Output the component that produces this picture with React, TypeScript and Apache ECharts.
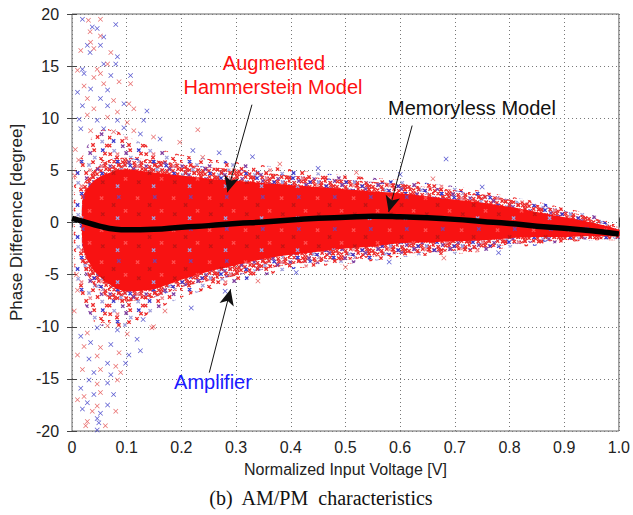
import React, { useEffect, useRef } from 'react';
import * as echarts from 'echarts';

// ---- Data ----
// Memoryless model (thick black curve)
const memX = [0, 0.02, 0.05, 0.08, 0.1, 0.15, 0.2, 0.25, 0.3, 0.35, 0.4, 0.45, 0.5, 0.55, 0.6, 0.65, 0.7, 0.75, 0.8, 0.85, 0.9, 0.95, 1.0];
const memY = [0.4, 0.1, -0.35, -0.65, -0.7, -0.65, -0.45, -0.3, -0.1, 0.05, 0.25, 0.4, 0.5, 0.6, 0.55, 0.45, 0.3, 0.1, -0.1, -0.35, -0.55, -0.8, -1.1];

// Outer envelope of the scatter cloud (sparser speckle)
const cloudX = [0.005, 0.02, 0.04, 0.06, 0.08, 0.1, 0.12, 0.15, 0.2, 0.25, 0.3, 0.35, 0.4, 0.45, 0.5, 0.55, 0.6, 0.65, 0.7, 0.75, 0.8, 0.85, 0.9, 0.95, 1.0];
const cloudUpper = [5, 6.5, 8.5, 9, 8.8, 8.3, 7.8, 7.2, 6.5, 6.1, 5.8, 5.5, 5.1, 4.8, 4.5, 4.3, 4.1, 3.8, 3.5, 3.0, 2.5, 2.0, 1.4, 0.8, -0.3];
const cloudLower = [-5, -7.5, -9.5, -10, -10, -10, -9.4, -8.5, -7.2, -6.4, -5.8, -5.1, -4.5, -4.2, -4.0, -3.7, -3.3, -3.2, -3.0, -2.8, -2.4, -2.2, -1.9, -1.7, -1.6];

// Dense speckled zone (blue/red points overlapping)
const denseX = [0.02, 0.04, 0.06, 0.08, 0.1, 0.15, 0.2, 0.25, 0.3, 0.35, 0.4, 0.45, 0.5, 0.55, 0.6, 0.65, 0.7, 0.75, 0.8, 0.85, 0.9, 0.95, 1.0];
const denseUpper = [3.5, 5, 5.8, 6.2, 6.2, 6, 5.6, 5.3, 5.1, 4.8, 4.5, 4.3, 4.1, 3.9, 3.7, 3.4, 3.1, 2.7, 2.2, 1.7, 1.1, 0.5, -0.5];
const denseLower = [-4, -6, -7, -7.5, -7.6, -7.2, -6.2, -5.6, -5.1, -4.5, -4.0, -3.8, -3.6, -3.3, -3.0, -2.9, -2.7, -2.5, -2.1, -1.9, -1.7, -1.6, -1.5];

// Solid red core of the cloud
const coreX = [0.02, 0.04, 0.06, 0.08, 0.1, 0.15, 0.2, 0.25, 0.3, 0.35, 0.4, 0.45, 0.5, 0.55, 0.6, 0.65, 0.7, 0.75, 0.8, 0.85, 0.9, 0.95, 1.0];
const coreUpper = [2.5, 4, 4.6, 5, 5.1, 4.8, 4.5, 4.2, 4.0, 3.8, 3.6, 3.4, 3.2, 3.0, 2.8, 2.5, 2.2, 1.9, 1.5, 1.0, 0.5, 0.0, -0.7];
const coreLower = [-2.5, -4.6, -5.6, -6.3, -6.6, -6.4, -5.5, -4.7, -4.1, -3.5, -3.1, -2.8, -2.5, -2.3, -2.0, -1.9, -1.8, -1.7, -1.5, -1.4, -1.4, -1.3, -1.3];

// Isolated points outside the cloud: amplifier (blue)
const ampOutliers: number[][] = [
  [0.019, 19.5], [0.037, 18.75], [0.08, 19.0], [0.046, 18.6], [0.058, 17.8], [0.028, 17.0], [0.033, 16.3], [0.052, 17.0],
  [0.083, 15.9], [0.08, 15.2], [0.019, 14.7], [0.058, 15.2], [0.071, 14.1], [0.107, 14.1], [0.022, 14.3], [0.01, 12.5],
  [0.034, 12.8], [0.065, 12.7], [0.052, 11.9], [0.095, 11.4], [0.019, 11.2], [0.065, 11.2], [0.137, 10.7], [0.013, 9.9],
  [0.046, 9.8], [0.083, 9.8], [0.131, 9.8], [0.016, 9.0], [0.058, 9.0], [0.095, 9.1], [0.125, 8.5], [0.161, 8.0],
  [0.221, 6.9], [0.269, 6.7], [0.684, 6.1],
  [0.016, -10.9], [0.046, -10.1], [0.083, -10.3], [0.119, -11.2], [0.125, -12.3], [0.034, -11.5], [0.071, -11.7],
  [0.104, -12.7], [0.031, -13.1], [0.065, -13.5], [0.098, -13.5], [0.04, -14.4], [0.071, -14.6], [0.031, -15.1],
  [0.065, -15.4], [0.016, -15.9], [0.04, -16.5], [0.076, -16.5], [0.028, -17.3], [0.065, -17.5], [0.019, -17.9],
  [0.052, -18.3], [0.046, -18.8], [0.049, -19.2], [0.046, -19.9], [0.218, -8.2], [0.13, -9.3],
  [0.33, 6.3], [0.45, 5.2], [0.6, 4.6], [0.75, 3.4], [0.28, -6.6], [0.41, -4.8], [0.58, -3.8], [0.78, -2.9],
];
// Isolated points outside the cloud: augmented Hammerstein model (red)
const modelOutliers: number[][] = [
  [0.03, 19.4], [0.052, 19.5], [0.033, 18.3], [0.052, 17.9], [0.034, 17.3], [0.016, 16.5], [0.04, 16.7], [0.071, 16.3],
  [0.065, 15.2], [0.01, 14.6], [0.046, 14.7], [0.052, 14.3], [0.086, 13.5], [0.107, 13.3], [0.04, 13.9], [0.022, 13.1],
  [0.058, 13.3], [0.028, 11.9], [0.076, 11.7], [0.104, 11.4], [0.04, 10.9], [0.083, 10.6], [0.113, 10.9], [0.028, 10.3],
  [0.065, 10.1], [0.101, 9.6], [0.23, 8.9], [0.034, 8.8], [0.076, 8.7], [0.113, 8.8], [0.149, 8.2], [0.197, 7.7], [0.239, 6.25],
  [0.028, -10.6], [0.065, -9.9], [0.101, -10.7], [0.149, -10.0], [0.022, -11.9], [0.052, -12.0], [0.086, -12.5],
  [0.01, -12.7], [0.046, -12.8], [0.08, -13.8], [0.019, -14.1], [0.052, -14.1], [0.089, -14.4], [0.046, -15.5],
  [0.083, -15.1], [0.022, -16.7], [0.052, -16.3], [0.01, -17.0], [0.046, -17.6], [0.08, -18.1], [0.037, -18.1],
  [0.028, -19.1], [0.025, -19.5], [0.061, -19.5], [0.146, -10.1], [0.17, -8.5],
  [0.38, 5.6], [0.52, 4.8], [0.66, 4.2], [0.34, -5.6], [0.5, -4.3], [0.68, -3.4],
  [0.005, 4.5], [0.008, -5], [0.006, 7], [0.004, -8.5], [0.012, 6], [0.01, -6.5],
];

// Annotation arrows: [fromX, fromY, toX, toY] in data units
const arrowAugmented = [0.329, 11.3, 0.284, 2.9];
const arrowMemoryless = [0.622, 9.3, 0.579, 1.0];
const arrowAmplifier = [0.251, -14.4, 0.29, -6.4];

const xTickLabels = ['0', '0.1', '0.2', '0.3', '0.4', '0.5', '0.6', '0.7', '0.8', '0.9', '1.0'];

// ---- Styling: hand-drawn speckle textures (4px cells, char = mark colour) ----
const MARK_COLORS: Record<string, string> = {
  r: '#ec2a2a', b: '#3a3acb', p: '#8040a0', l: '#a0a0dc', k: '#f08a90', w: '#ff5050', d: '#c41414',
};
const DENSE_TILE = [
  'rrbrrprlr',
  'prrrrbrkr',
  'rrrlrrprr',
  'lrprrrrbr',
  'rbrkrrprr',
  'rrprrbrlr',
  'brrrprrkr',
  'rprrrrlbr',
];
const MEDIUM_TILE = [
  'r.b..r.r.',
  '..r.l..p.',
  'r...k.r..',
  '.b.r...l.',
  'r..p.r..r',
  '.l...r.b.',
  'r.k.p...r',
  '..r..l.r.',
];
const CORE_TILE = [
  '.........',
  '..p....w.',
  '.........',
  '.d.......',
  '....w....',
  '.......d.',
  '..l......',
  '.........',
];
const JITTER = [0, 2, 1, 3, 1, 0, 2, 3, 1];

function makePattern(tile: string[], bg: string | null) {
  const cell = 4;
  const w = tile[0].length * cell;
  const h = tile.length * cell;
  const c = document.createElement('canvas');
  c.width = w;
  c.height = h;
  const ctx = c.getContext('2d')!;
  if (bg) {
    ctx.fillStyle = bg;
    ctx.fillRect(0, 0, w, h);
  }
  ctx.lineWidth = 1.3;
  tile.forEach((row, ri) => {
    row.split('').forEach((ch, ci) => {
      if (ch === '.') return;
      const x = ci * cell + 1 + JITTER[(ci + ri) % JITTER.length] * 0.6;
      const y = ri * cell + 1 + JITTER[(ci * 2 + ri) % JITTER.length] * 0.6;
      ctx.strokeStyle = MARK_COLORS[ch];
      ctx.beginPath();
      ctx.moveTo(x - 1.7, y - 1.7);
      ctx.lineTo(x + 1.7, y + 1.7);
      ctx.moveTo(x + 1.7, y - 1.7);
      ctx.lineTo(x - 1.7, y + 1.7);
      ctx.stroke();
    });
  });
  return { image: c, repeat: 'repeat', imageWidth: w, imageHeight: h };
}

const CROSS = 'path://M0,1L1,0L5,4L9,0L10,1L6,5L10,9L9,10L5,6L1,10L0,9L4,5Z';
const FONT = '"Liberation Sans", Arial, sans-serif';

function band(name: string, xs: number[], lo: number[], up: number[], fill: any, z: number) {
  return {
    type: 'custom',
    name,
    z,
    silent: true,
    coordinateSystem: 'cartesian2d',
    data: xs.map((x, i) => [x, lo[i], up[i]]),
    encode: { x: 0, y: [1, 2] },
    renderItem: (params: any, api: any) => {
      if (params.dataIndex !== 0) return null;
      const pts: number[][] = [];
      for (let i = 0; i < xs.length; i++) pts.push(api.coord([xs[i], up[i]]));
      for (let i = xs.length - 1; i >= 0; i--) pts.push(api.coord([xs[i], lo[i]]));
      return { type: 'polygon', shape: { points: pts, smooth: 0.2 }, style: { fill, stroke: 'none' } };
    },
  };
}

export default function App() {
  const ref = useRef<HTMLDivElement>(null);
  useEffect(() => {
    if (!ref.current) return;
    const chart = echarts.init(ref.current, null, { renderer: 'svg' });
    const mediumFill = makePattern(MEDIUM_TILE, null);
    const denseFill = makePattern(DENSE_TILE, null);
    const coreFill = makePattern(CORE_TILE, '#f81212');

    const tickCommon = { show: true, inside: true, length: 5, lineStyle: { color: '#444', width: 1 } };
    const arrows = [arrowAugmented, arrowMemoryless, arrowAmplifier].map((a) => [
      { coord: [a[0], a[1]] },
      { coord: [a[2], a[3]] },
    ]);

    chart.setOption({
      animation: false,
      backgroundColor: '#fff',
      grid: { left: 71, right: 9, top: 14, bottom: 84, show: true, borderColor: '#666', borderWidth: 1, backgroundColor: 'transparent' },
      xAxis: [
        {
          type: 'value', min: 0, max: 1, interval: 0.1,
          name: 'Normalized Input Voltage [V]', nameLocation: 'middle', nameGap: 30,
          nameTextStyle: { fontFamily: FONT, fontSize: 16, color: '#222' },
          axisLine: { show: false },
          axisTick: tickCommon,
          axisLabel: {
            fontFamily: FONT, fontSize: 16, color: '#222', margin: 8, showMinLabel: true, showMaxLabel: true,
            formatter: (v: number) => xTickLabels[Math.round(v * 10)],
          },
          splitLine: { show: true, lineStyle: { type: [1, 3], color: '#777', width: 1 } },
        },
        {
          type: 'value', min: 0, max: 1, interval: 0.1, position: 'top',
          axisLine: { show: false }, axisTick: tickCommon, axisLabel: { show: false }, splitLine: { show: false },
        },
      ],
      yAxis: [
        {
          type: 'value', min: -20, max: 20, interval: 5,
          name: 'Phase Difference [degree]', nameLocation: 'middle', nameGap: 44,
          nameTextStyle: { fontFamily: FONT, fontSize: 17, color: '#222' },
          axisLine: { show: false },
          axisTick: tickCommon,
          axisLabel: { fontFamily: FONT, fontSize: 16, color: '#222', margin: 13 },
          splitLine: { show: true, lineStyle: { type: [1, 3], color: '#777', width: 1 } },
        },
        {
          type: 'value', min: -20, max: 20, interval: 5, position: 'right',
          axisLine: { show: false }, axisTick: tickCommon, axisLabel: { show: false }, splitLine: { show: false },
        },
      ],
      series: [
        band('Cloud', cloudX, cloudLower, cloudUpper, mediumFill, 1),
        {
          type: 'scatter', name: 'Amplifier', z: 2, silent: true, symbol: CROSS, symbolSize: 5,
          itemStyle: { color: '#2f2fc4', opacity: 0.8 }, data: ampOutliers,
        },
        {
          type: 'scatter', name: 'Augmented Hammerstein Model', z: 2, silent: true, symbol: CROSS, symbolSize: 5,
          itemStyle: { color: '#e03a3a', opacity: 0.75 }, data: modelOutliers,
        },
        band('Dense', denseX, denseLower, denseUpper, denseFill, 2),
        band('Core', coreX, coreLower, coreUpper, coreFill, 3),
        {
          type: 'line', name: 'Memoryless Model', z: 4, silent: true, smooth: true, showSymbol: false,
          lineStyle: { color: '#000', width: 5.5 },
          data: memX.map((x, i) => [x, memY[i]]),
          markLine: {
            silent: true, symbol: ['none', 'arrow'], symbolSize: [11, 16], precision: 3,
            lineStyle: { color: '#111', width: 1, type: 'solid' },
            label: { show: false }, emphasis: { disabled: true },
            data: arrows,
          },
        },
      ],
      graphic: [
        { type: 'text', z: 10, style: { text: 'Augmented', x: 274, y: 63, fill: '#ff1010', font: `20px ${FONT}`, textAlign: 'center', textVerticalAlign: 'middle' } },
        { type: 'text', z: 10, style: { text: 'Hammerstein Model', x: 273, y: 87, fill: '#ff1010', font: `20px ${FONT}`, textAlign: 'center', textVerticalAlign: 'middle' } },
        { type: 'text', z: 10, style: { text: 'Memoryless Model', x: 472, y: 108, fill: '#111', font: `20px ${FONT}`, textAlign: 'center', textVerticalAlign: 'middle' } },
        { type: 'text', z: 10, style: { text: 'Amplifier', x: 213, y: 382, fill: '#1a1aff', font: `20px ${FONT}`, textAlign: 'center', textVerticalAlign: 'middle' } },
        { type: 'text', z: 10, style: { text: '(b)  AM/PM  characteristics', x: 321, y: 498, fill: '#111', font: '20px "Liberation Serif", "Times New Roman", serif', textAlign: 'center', textVerticalAlign: 'middle' } },
      ],
    });
    return () => chart.dispose();
  }, []);
  return <div ref={ref} style={{ position: 'fixed', left: 0, top: 0, width: 633, height: 515 }} />;
}
